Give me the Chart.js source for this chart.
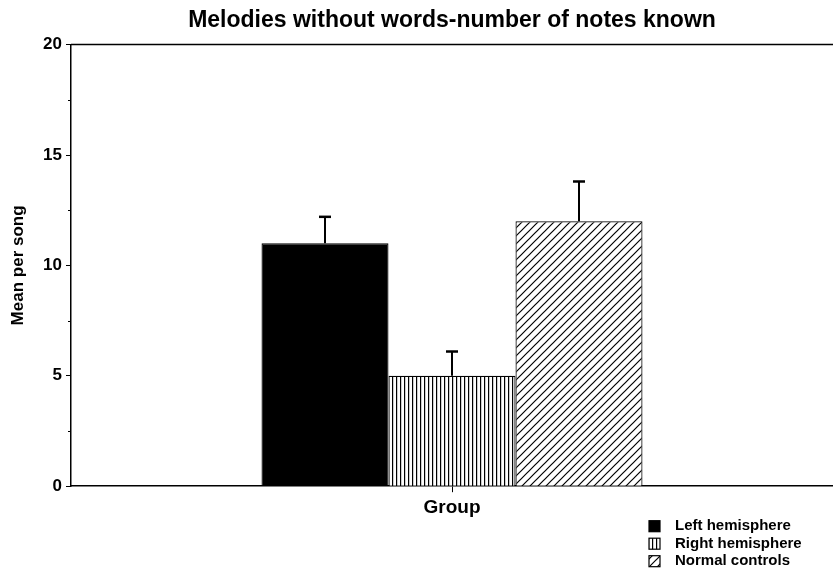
<!DOCTYPE html>
<html>
<head>
<meta charset="utf-8">
<style>
  html, body { margin: 0; padding: 0; background: #fff; }
  #wrap { width: 833px; height: 569px; }
</style>
<script src="https://cdn.jsdelivr.net/npm/chart.js@4/dist/chart.umd.min.js"></script>
</head>
<body>
<div id="wrap"><canvas id="chart" width="833" height="569"></canvas></div>
<script>
// Data
const categories = ['Group'];
const groups = ['Left hemisphere', 'Right hemisphere', 'Normal controls'];
const means = [11, 5, 12];
const errors = [1.2, 1.1, 1.8];
const yTicks = [0, 5, 10, 15, 20];

const FONT = "'Liberation Sans', Arial, Helvetica, sans-serif";

// Fill patterns: solid, vertical stripes, diagonal hatch
function stripePattern() {
  const c = document.createElement('canvas');
  c.width = 4; c.height = 4;
  const g = c.getContext('2d');
  g.fillStyle = '#fff'; g.fillRect(0, 0, 4, 4);
  g.fillStyle = '#000'; g.fillRect(0, 0, 1.2, 4);
  return g.createPattern(c, 'repeat');
}
function hatchPattern() {
  const s = 8;
  const c = document.createElement('canvas');
  c.width = s; c.height = s;
  const g = c.getContext('2d');
  g.fillStyle = '#fff'; g.fillRect(0, 0, s, s);
  g.strokeStyle = '#000'; g.lineWidth = 1.2;
  g.beginPath();
  g.moveTo(-1, s + 1); g.lineTo(s + 1, -1);
  g.moveTo(-1, 1); g.lineTo(1, -1);
  g.moveTo(s - 1, s + 1); g.lineTo(s + 1, s - 1);
  g.stroke();
  return g.createPattern(c, 'repeat');
}
const fills = ['#000', stripePattern(), hatchPattern()];

const datasets = groups.map((name, i) => ({
  label: name,
  data: [means[i]],
  errorBar: errors[i],
  backgroundColor: fills[i],
  borderColor: '#000',
  borderWidth: 1.2,
  categoryPercentage: 0.5,
  barPercentage: 1.0
}));

// Error bars (upper whisker only), top frame line, minor ticks, legend
const decorations = {
  id: 'decorations',
  afterDatasetsDraw(chart) {
    const ctx = chart.ctx;
    const y = chart.scales.y;
    const area = chart.chartArea;
    ctx.save();
    ctx.strokeStyle = '#000';
    chart.data.datasets.forEach((ds, i) => {
      const bar = chart.getDatasetMeta(i).data[0];
      const v = ds.data[0];
      const yTop = y.getPixelForValue(v + ds.errorBar);
      const yBar = y.getPixelForValue(v);
      ctx.lineWidth = 2;
      ctx.beginPath();
      ctx.moveTo(bar.x, yBar);
      ctx.lineTo(bar.x, yTop);
      ctx.stroke();
      ctx.lineWidth = 2.5;
      ctx.beginPath();
      ctx.moveTo(bar.x - 6, yTop);
      ctx.lineTo(bar.x + 6, yTop);
      ctx.stroke();
    });

    // top frame line
    ctx.lineWidth = 1.5;
    ctx.beginPath();
    ctx.moveTo(area.left, area.top);
    ctx.lineTo(area.right, area.top);
    ctx.stroke();

    // minor ticks halfway between the major ones
    ctx.lineWidth = 1;
    for (let k = 0; k < yTicks.length - 1; k++) {
      const py = Math.round(y.getPixelForValue((yTicks[k] + yTicks[k + 1]) / 2)) + 0.5;
      ctx.beginPath();
      ctx.moveTo(area.left - 3, py);
      ctx.lineTo(area.left, py);
      ctx.stroke();
    }

    // legend, stacked at the lower right
    ctx.font = 'bold 15px ' + FONT;
    ctx.textBaseline = 'middle';
    const bx = chart.width - 184;
    chart.data.datasets.forEach((ds, i) => {
      const cy = area.bottom + 40 + i * 17.5;
      ctx.fillStyle = ds.backgroundColor;
      ctx.fillRect(bx, cy - 5.5, 11, 11);
      ctx.lineWidth = 1.2;
      ctx.strokeStyle = '#000';
      ctx.strokeRect(bx, cy - 5.5, 11, 11);
      ctx.fillStyle = '#000';
      ctx.fillText(ds.label, bx + 26, cy);
    });
    ctx.restore();
  }
};

new Chart(document.getElementById('chart'), {
  type: 'bar',
  data: { labels: categories, datasets },
  plugins: [decorations],
  options: {
    responsive: false,
    animation: false,
    layout: { padding: { left: 0, right: 0, top: 0, bottom: 46 } },
    plugins: {
      legend: { display: false },
      tooltip: { enabled: false },
      title: {
        display: true,
        fullSize: false,
        text: 'Melodies without words-number of notes known',
        color: '#000',
        font: { family: FONT, size: 23, weight: 'bold' },
        padding: { top: 7, bottom: 10 }
      }
    },
    scales: {
      x: {
        grid: {
          display: true,
          offset: false,
          drawOnChartArea: false,
          drawTicks: true,
          tickLength: 6,
          color: '#000',
          lineWidth: 1
        },
        border: { display: true, color: '#000', width: 1.5 },
        ticks: {
          color: '#000',
          padding: 4,
          font: { family: FONT, size: 19, weight: 'bold' }
        }
      },
      y: {
        min: 0,
        max: 20,
        afterFit(scale) { scale.width = 71; },
        afterBuildTicks(scale) { scale.ticks = yTicks.map(v => ({ value: v })); },
        grid: {
          display: true,
          drawOnChartArea: false,
          drawTicks: true,
          tickLength: 5,
          color: '#000',
          lineWidth: 1
        },
        border: { display: true, color: '#000', width: 1.5 },
        ticks: {
          color: '#000',
          padding: 4,
          font: { family: FONT, size: 17, weight: 'bold' }
        },
        title: {
          display: true,
          text: 'Mean per song',
          color: '#000',
          font: { family: FONT, size: 17, weight: 'bold' },
          padding: { top: 8, bottom: 0 }
        }
      }
    }
  }
});
</script>
</body>
</html>
